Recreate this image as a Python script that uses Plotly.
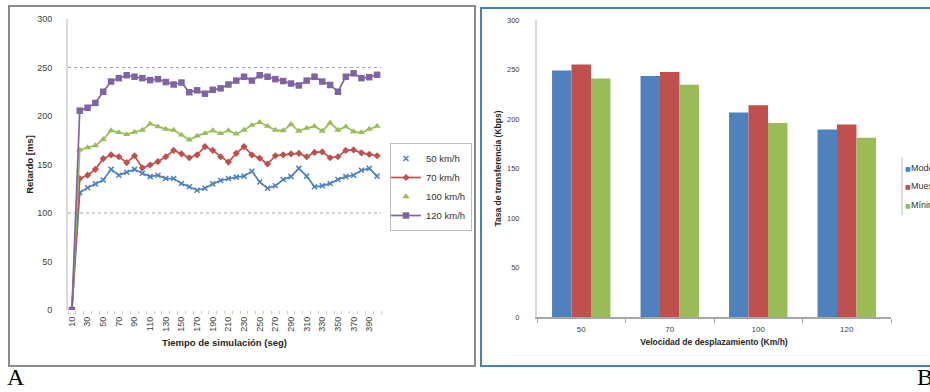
import plotly.graph_objects as go

# ---------------- data: panel A (line chart) ----------------
tiempo = [10, 20, 30, 40, 50, 60, 70, 80, 90, 100,
          110, 120, 130, 140, 150, 160, 170, 180, 190, 200,
          210, 220, 230, 240, 250, 260, 270, 280, 290, 300,
          310, 320, 330, 340, 350, 360, 370, 380, 390, 400]

retardo_50 = [0, 121, 126, 130, 134, 145, 139, 142, 145, 141,
              137.5, 139, 135.5, 135.5, 130.5, 127, 123.5, 125.5, 130, 133.5,
              135.5, 137, 138, 143, 132, 125.5, 128, 134.5, 137.5, 146,
              138, 127, 128, 130.5, 134.5, 137.5, 139, 144, 146, 138]
retardo_70 = [0, 135.5, 139, 145, 156, 160, 158, 152, 159, 146.5,
              149.5, 153, 158, 164.5, 161, 157, 160, 168.5, 164.5, 158,
              152.5, 161.5, 168.5, 160, 156.5, 150.5, 159, 160, 161, 161.5,
              158, 162.5, 163, 157, 158, 164.5, 165, 162, 160.5, 159]
retardo_100 = [0, 165, 167.5, 169.5, 176, 185, 183, 181, 183.5, 185.5,
               192, 189, 186.5, 185.5, 180.5, 175.5, 179.5, 182, 185, 182,
               185, 181.5, 185.5, 190.5, 193.5, 189.5, 185.5, 185, 191.5, 184.5,
               187.5, 189.5, 184.5, 193, 185.5, 189, 184, 183, 186.5, 189.5]
retardo_120 = [0, 205.5, 208.5, 213.5, 225, 235.5, 239, 242, 240.5, 239,
               237, 238, 235, 232.5, 234.5, 224.5, 226.5, 223, 227, 228.5,
               232.5, 236.5, 240.5, 236.5, 242, 240.5, 238, 236, 233.5, 231.5,
               236.5, 240.5, 235.5, 232, 225, 240.5, 244, 239, 240, 242.5]
nombres_a = ["50 km/h", "70 km/h", "100 km/h", "120 km/h"]
niveles_guia = [100, 250]

# ---------------- data: panel B (bar chart) ----------------
velocidad = ["50", "70", "100", "120"]
tasa_serie1 = [249, 243.5, 206.5, 189.5]
tasa_serie2 = [255, 247.5, 214, 194.5]
tasa_serie3 = [241, 234.5, 196, 181]
nombres_b = ["Modelo", "Muestra", "Mínimo"]

W, H = 930, 392
FONT = "Liberation Sans"


def px_x(p):
    return p / W


def px_y(p):
    return 1 - p / H


fig = go.Figure()

# ---- panel A traces ----
estilos_a = [
    dict(color="#4f81bd", symbol="x-thin", size=5, lw=1.7, leg="markers"),
    dict(color="#c0504d", symbol="diamond", size=5.5, lw=1.7, leg="lines+markers"),
    dict(color="#9bbb59", symbol="triangle-up", size=6.5, lw=1.7, leg="markers"),
    dict(color="#8064a2", symbol="square", size=6.5, lw=1.7, leg="lines+markers"),
]
for serie, nombre, st in zip([retardo_50, retardo_70, retardo_100, retardo_120], nombres_a, estilos_a):
    mk = dict(color=st["color"], symbol=st["symbol"], size=st["size"],
              line=dict(color=st["color"], width=1.5 if st["symbol"] == "x-thin" else 0))
    fig.add_trace(go.Scatter(x=tiempo, y=serie, mode="lines+markers", name=nombre,
                             line=dict(color=st["color"], width=st["lw"]),
                             marker=mk, showlegend=False, xaxis="x", yaxis="y"))
    # legend entry (as drawn in the original legend)
    fig.add_trace(go.Scatter(x=[None], y=[None], mode=st["leg"], name=nombre,
                             line=dict(color=st["color"], width=st["lw"]),
                             marker=mk, showlegend=True, legend="legend",
                             xaxis="x", yaxis="y"))

# ---- panel B traces ----
colores_b = ["#4f81bd", "#c0504d", "#9bbb59"]
for serie, nombre, col in zip([tasa_serie1, tasa_serie2, tasa_serie3], nombres_b, colores_b):
    fig.add_trace(go.Bar(x=velocidad, y=serie, name=nombre, marker=dict(color=col, line=dict(width=0)),
                         showlegend=False, xaxis="x2", yaxis="y2"))

tick_font = dict(family=FONT, size=9, color="#404040")
title_font = dict(family=FONT, size=9.5, color="#262626")

fig.update_layout(
    width=W, height=H,
    margin=dict(l=0, r=0, t=0, b=0, autoexpand=False),
    paper_bgcolor="white", plot_bgcolor="white",
    barmode="group", bargap=0.34, bargroupgap=0,
    xaxis=dict(domain=[px_x(68), px_x(381)], range=[5, 405],
               tickmode="linear", tick0=10, dtick=20, tickangle=-90,
               ticks="", showgrid=False, zeroline=False, showline=False,
               tickfont=tick_font, ticklabelstandoff=4,
               minor=dict(ticks="outside", tick0=5, dtick=10, ticklen=3,
                          tickcolor="#c8c8c8", showgrid=False),
               title=dict(text="<b>Tiempo de simulación (seg)</b>", font=title_font, standoff=8),
               anchor="y"),
    yaxis=dict(domain=[px_y(310), px_y(19)], range=[0, 300], dtick=50,
               showgrid=False, zeroline=False, showline=True, linecolor="#d9d9d9",
               linewidth=2, ticks="", tickfont=tick_font, ticklabelstandoff=12,
               title=dict(text="<b>Retardo [ms]</b>", font=title_font, standoff=2),
               anchor="x"),
    xaxis2=dict(domain=[px_x(537), px_x(891)], type="category",
                showgrid=False, zeroline=False, showline=True, linecolor="#a6a6a6",
                linewidth=1.5, ticks="outside", tickson="boundaries", ticklen=4,
                tickcolor="#a6a6a6", tickfont=dict(family=FONT, size=8, color="#404040"),
                ticklabelstandoff=4,
                title=dict(text="<b>Velocidad de desplazamiento (Km/h)</b>",
                           font=dict(family=FONT, size=8.5, color="#262626"), standoff=6),
                anchor="y2"),
    yaxis2=dict(domain=[px_y(317), px_y(20)], range=[0, 300], dtick=50,
                showgrid=False, zeroline=False, showline=True, linecolor="#d9d9d9",
                linewidth=2, ticks="", tickfont=dict(family=FONT, size=7.5, color="#404040"),
                ticklabelstandoff=14,
                title=dict(text="<b>Tasa de transferencia (Kbps)</b>",
                           font=dict(family=FONT, size=8.5, color="#262626"), standoff=4),
                anchor="x2"),
    legend=dict(x=px_x(390), y=px_y(143), xanchor="left", yanchor="top",
                bordercolor="#bfbfbf", borderwidth=1, bgcolor="white",
                font=dict(family=FONT, size=9.5, color="#333333"),
                indentation=-5, tracegroupgap=0),
)

shapes = []
# dotted guide lines in panel A
for lvl in niveles_guia:
    shapes.append(dict(type="line", xref="x domain", yref="y", x0=0, x1=1, y0=lvl, y1=lvl,
                       line=dict(color="#a6a6a6", width=1, dash="dot"), layer="below"))
# frames
shapes.append(dict(type="rect", xref="paper", yref="paper",
                   x0=px_x(9), x1=px_x(475), y0=px_y(366), y1=px_y(6),
                   line=dict(color="#8c8c8c", width=2)))
shapes.append(dict(type="rect", xref="paper", yref="paper",
                   x0=px_x(481), x1=px_x(960), y0=px_y(366), y1=px_y(8),
                   line=dict(color="#4a7ebb", width=2)))
# legend A shadow
shapes.append(dict(type="rect", xref="paper", yref="paper",
                   x0=px_x(393), x1=px_x(472), y0=px_y(229), y1=px_y(146),
                   line=dict(width=0), fillcolor="#d0d0d0"))
# legend B left border
shapes.append(dict(type="line", xref="paper", yref="paper",
                   x0=px_x(902), x1=px_x(902), y0=px_y(215), y1=px_y(157),
                   line=dict(color="#c9d5e6", width=1.5)))

annotations = [
    dict(text="A", x=px_x(5), y=px_y(392), xref="paper", yref="paper", xanchor="left", yanchor="bottom",
         showarrow=False, font=dict(family="Liberation Serif", size=24, color="black")),
    dict(text="B", x=px_x(915), y=px_y(392), xref="paper", yref="paper", xanchor="left", yanchor="bottom",
         showarrow=False, font=dict(family="Liberation Serif", size=24, color="black")),
]
for k, (nombre, col) in enumerate(zip(nombres_b, colores_b)):
    yy = 168 + k * 18.5
    annotations.append(dict(text="■", x=px_x(903), y=px_y(yy), xref="paper", yref="paper",
                            xanchor="left", yanchor="middle", showarrow=False,
                            font=dict(family="DejaVu Sans", size=6, color=col)))
    annotations.append(dict(text=nombre, x=px_x(909), y=px_y(yy), xref="paper", yref="paper",
                            xanchor="left", yanchor="middle", showarrow=False,
                            font=dict(family=FONT, size=9, color="#333333")))

fig.update_layout(shapes=shapes, annotations=annotations)

fig.write_html("out.html",
               config={"displayModeBar": False},
               post_script="document.body.style.margin='0';document.body.style.padding='0';"
                           "document.body.style.overflow='hidden';")
